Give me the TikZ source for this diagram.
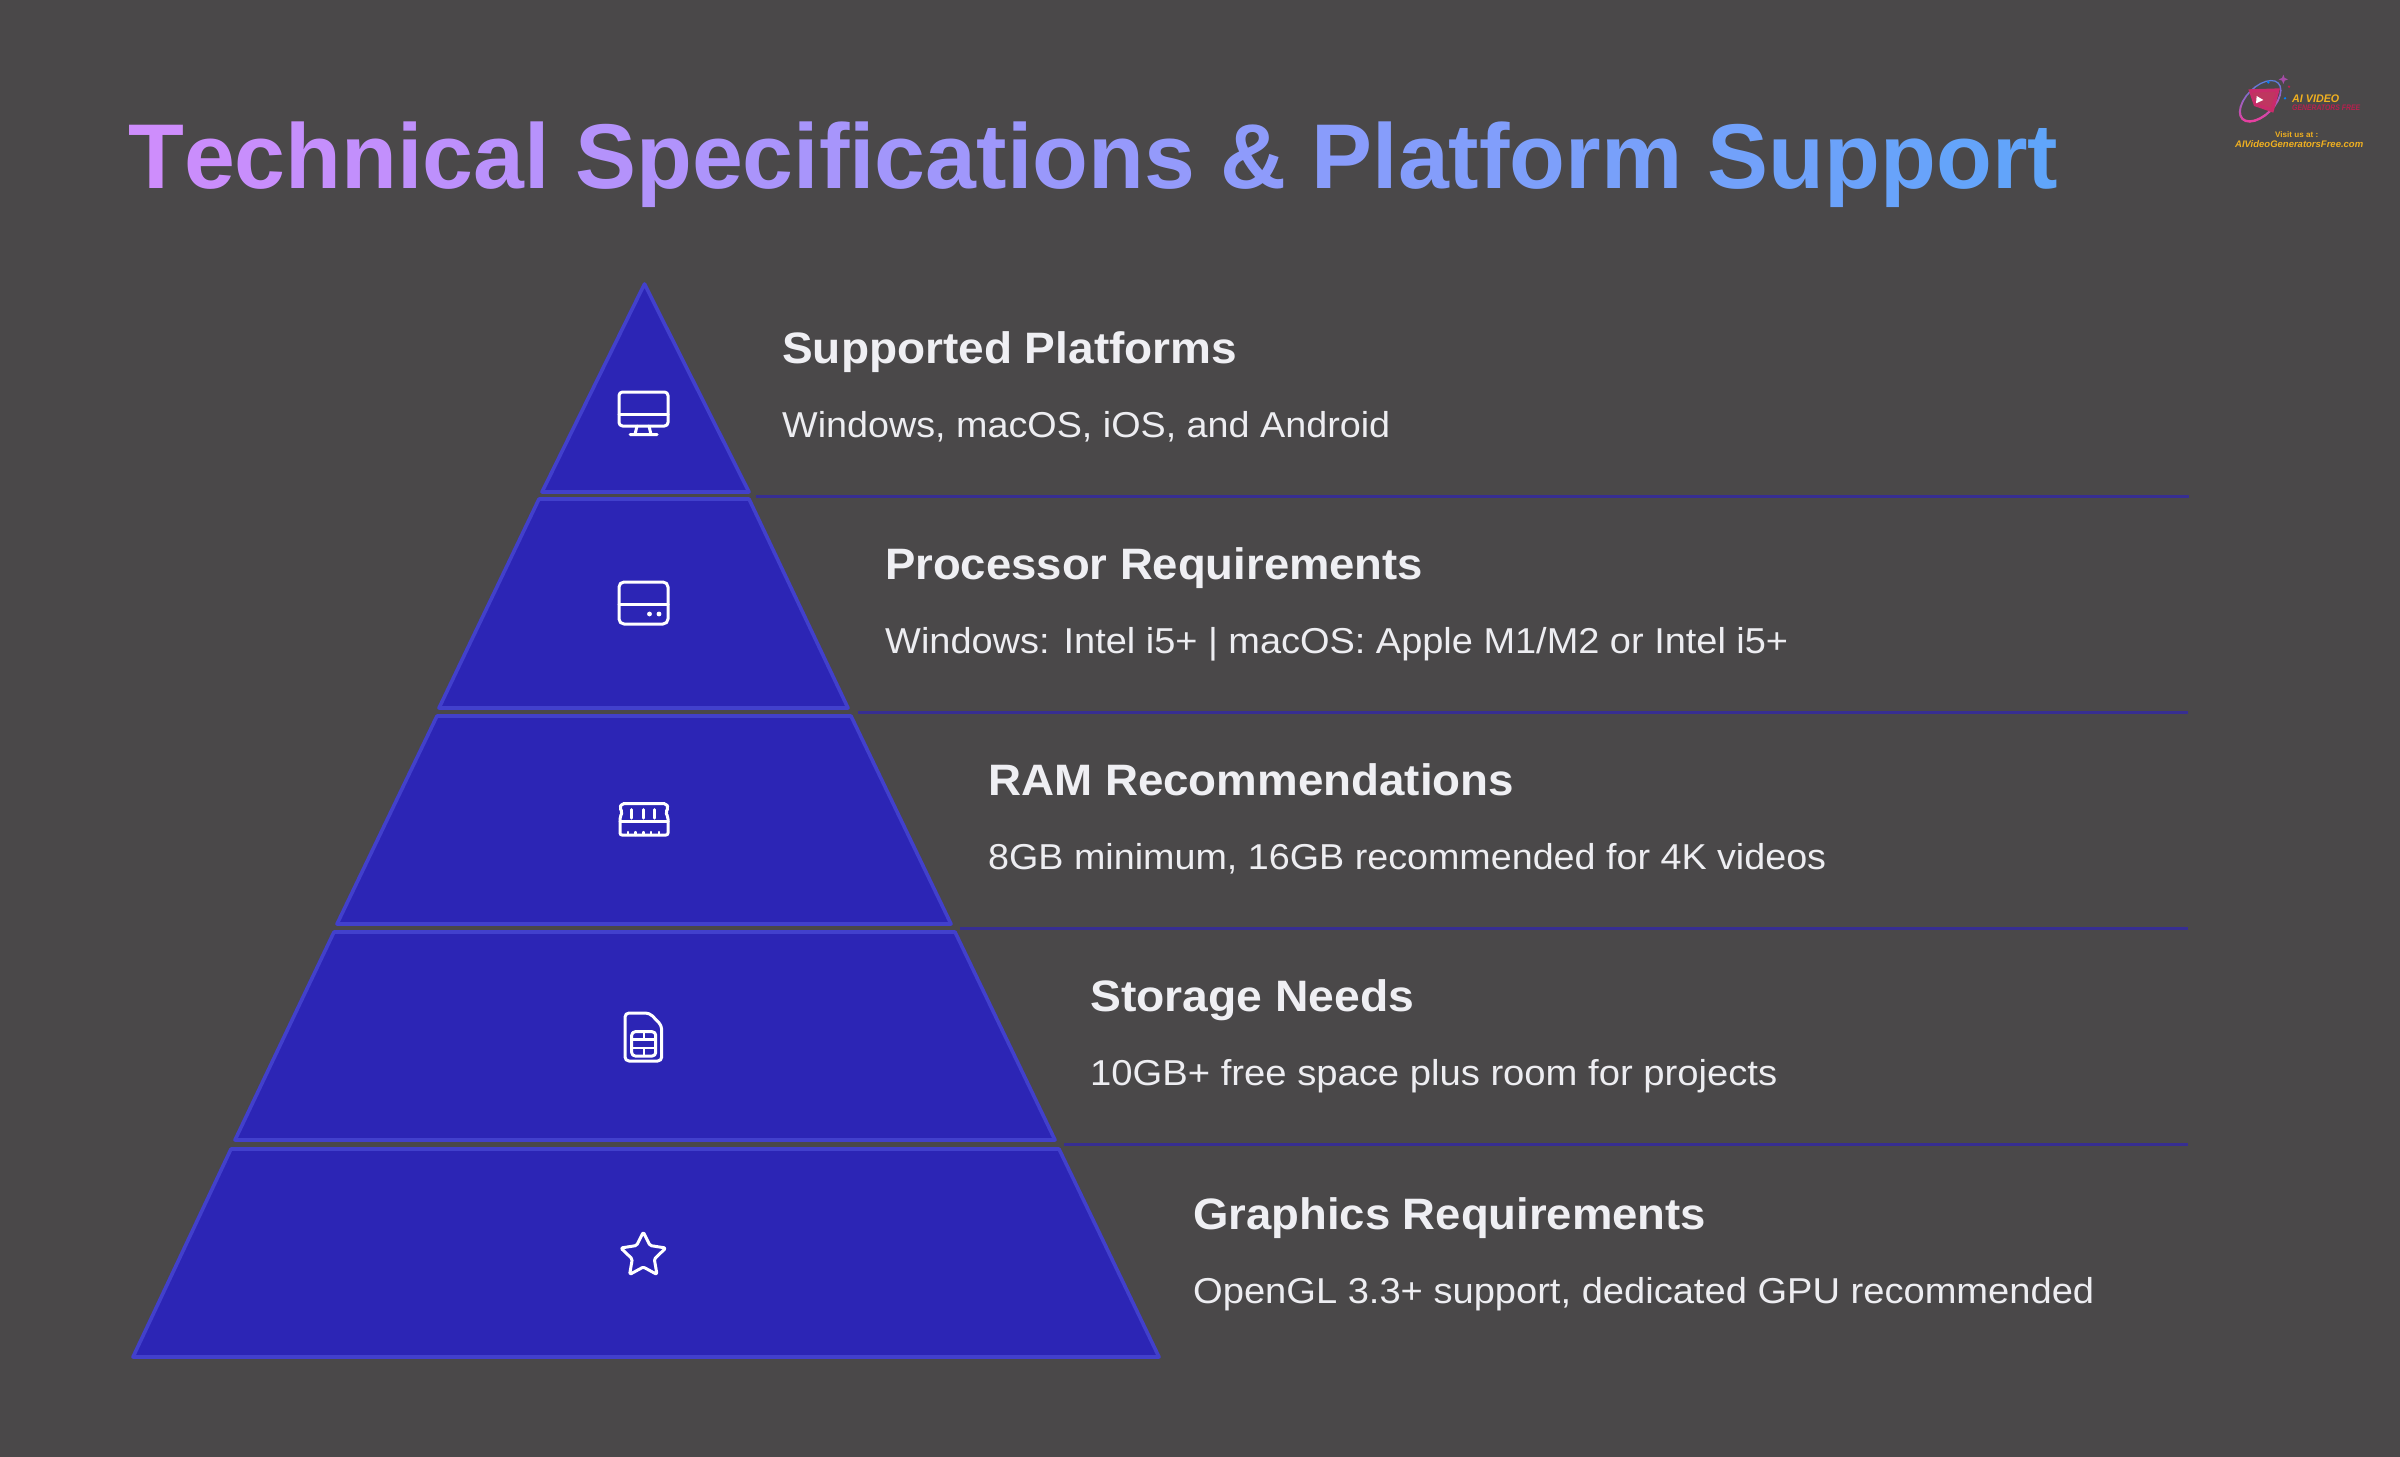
\documentclass[tikz,border=0pt]{standalone}
\usepackage{fontspec}
\usepackage{graphicx}
\setmainfont{Liberation Sans}
\usetikzlibrary{calc}
\definecolor{bgc}{HTML}{4A4849}
\definecolor{tierfill}{HTML}{2C25B5}
\definecolor{tierline}{HTML}{4240CC}
\definecolor{rulec}{HTML}{372E92}
\definecolor{headc}{HTML}{EFEFF3}
\definecolor{bodyc}{HTML}{EDEDF1}
\definecolor{gradA}{HTML}{D08CFC}
\definecolor{gradB}{HTML}{60A5FA}
\definecolor{goldc}{HTML}{F0B020}
\definecolor{crimc}{HTML}{B8204E}
\definecolor{ringA}{HTML}{E83E9E}
\definecolor{ringB}{HTML}{5A7FE0}
\newdimen\gaccum
\newdimen\gtotal
\newbox\gmeas
\newcommand\fitw[2]{\setbox0\hbox{#2}\pgfmathsetmacro\fitf{#1/(\the\wd0)}\scalebox{\fitf}[1]{\box0}}
\newcommand\G[1]{\setbox\gmeas\hbox{#1}\pgfmathtruncatemacro\gp{100-min(100,(\the\gaccum+0.5*\the\wd\gmeas)/\the\gtotal*100)}\global\advance\gaccum by \wd\gmeas\textcolor{gradA!\gp!gradB}{#1}}
\newcommand\titletext{\G{T}\G{e}\G{c}\G{h}\G{n}\G{i}\G{c}\G{a}\G{l}\G{\ }\G{S}\G{p}\G{e}\G{c}\G{i}\G{f}\G{i}\G{c}\G{a}\G{t}\G{i}\G{o}\G{n}\G{s}\G{\ }\G{\&}\G{\ }\G{P}\G{l}\G{a}\G{t}\G{f}\G{o}\G{r}\G{m}\G{\ }\G{S}\G{u}\G{p}\G{p}\G{o}\G{r}\G{t}}
\newcommand\gradtitle[1]{\global\gaccum=0pt \gtotal=2000pt \setbox4\hbox{\titletext}\gtotal=\gaccum \global\gaccum=0pt \fitw{#1}{\titletext}}
\tikzset{
  tier/.style={fill=tierfill,draw=tierline,line width=3.6pt,line join=round},
  divider/.style={draw=rulec,line width=3pt},
  icon/.style={draw=white,line width=3pt,line join=round,line cap=round},
  headtxt/.style={anchor=base west,inner sep=0pt,text=headc,font=\fontsize{44}{50}\selectfont\bfseries},
  bodytxt/.style={anchor=base west,inner sep=0pt,text=bodyc,font=\fontsize{36}{42}\selectfont},
  titletxt/.style={anchor=base west,inner sep=0pt,font=\fontsize{92}{100}\selectfont\bfseries},
  logotxt/.style={anchor=base west,inner sep=0pt}
}
\begin{document}
\begin{tikzpicture}[x=1pt,y=-1pt]
\useasboundingbox (0,0) rectangle (2400,1456);
\fill[bgc] (-3,-3) rectangle (2403,1459);

% title
\node[titletxt] (title) at (128,188) {\gradtitle{1930}};

% pyramid
\draw[tier] (644.5,284) -- (749,492) -- (542,492) -- cycle;
\draw[tier] (539,499) -- (749,499) -- (848,708) -- (439,708) -- cycle;
\draw[tier] (437,716) -- (851,716) -- (951,924) -- (337,924) -- cycle;
\draw[tier] (334,932) -- (955,932) -- (1055,1140) -- (235,1140) -- cycle;
\draw[tier] (231,1149) -- (1059,1149) -- (1159,1357) -- (133,1357) -- cycle;

% dividers
\coordinate (d1a) at (756,496);  \coordinate (d1b) at (2189,496);
\coordinate (d2a) at (858,712);  \coordinate (d2b) at (2188,712);
\coordinate (d3a) at (960,928);  \coordinate (d3b) at (2188,928);
\coordinate (d4a) at (1064,1144);\coordinate (d4b) at (2188,1144);
\draw[divider] (d1a) -- (d1b);
\draw[divider] (d2a) -- (d2b);
\draw[divider] (d3a) -- (d3b);
\draw[divider] (d4a) -- (d4b);

% texts
\node[headtxt] (h1) at (782,363) {\fitw{455}{Supported Platforms}};
\node[bodytxt] (b1) at (782,437) {\fitw{608}{Windows, macOS, iOS, and Android}};
\node[headtxt] (h2) at (885,579) {\fitw{538}{Processor Requirements}};
\node[bodytxt] (b2) at (885,653) {\fitw{903}{Windows: Intel i5+ | macOS: Apple M1/M2 or Intel i5+}};
\node[headtxt] (h3) at (988,795) {\fitw{526}{RAM Recommendations}};
\node[bodytxt] (b3) at (988,869) {\fitw{838}{8GB minimum, 16GB recommended for 4K videos}};
\node[headtxt] (h4) at (1090,1011) {\fitw{324}{Storage Needs}};
\node[bodytxt] (b4) at (1090,1085) {\fitw{687}{10GB+ free space plus room for projects}};
\node[headtxt] (h5) at (1193,1229) {\fitw{513}{Graphics Requirements}};
\node[bodytxt] (b5) at (1193,1303) {\fitw{901}{OpenGL 3.3+ support, dedicated GPU recommended}};

% monitor icon
\draw[icon,rounded corners=3.5pt] (619,392) rectangle (668,426);
\draw[icon] (619,414) -- (668,414);
\draw[icon] (637,426) -- (635,434.5) (649,426) -- (651,434.5) (630,434.5) -- (657,434.5);

% drive icon
\draw[icon,rounded corners=5pt] (619,582) rectangle (668,624);
\draw[icon] (619,604) -- (668,604);
\fill[white] (649.5,614) circle (2.4) (659,614) circle (2.4);

% ram icon
\draw[icon,rounded corners=2pt] (622,803.5) -- (666,803.5) -- (668.5,808) -- (665.5,812) -- (668,817) -- (668,835) -- (620,835) -- (620,817) -- (622.5,812) -- (619.5,808) -- cycle;
\draw[icon] (620,821.5) -- (668,821.5);
\draw[icon] (631.7,809.5) -- (631.7,818) (643.3,809.5) -- (643.3,818) (654.3,809.5) -- (654.3,818);
\draw[icon,line width=2.4pt] (627.7,832) -- (627.7,835) (635.3,832) -- (635.3,835) (643.3,832) -- (643.3,835) (650.7,832) -- (650.7,835) (659,832) -- (659,835);

% sim icon
\draw[icon,rounded corners=4pt] (625,1013) -- (649.5,1013) -- (661.7,1025.5) -- (661.7,1061) -- (625,1061) -- cycle;
\draw[icon,rounded corners=3.5pt] (631.7,1031.7) rectangle (655.7,1056);
\draw[icon,line width=2.4pt] (631.7,1039.5) -- (655.7,1039.5) (631.7,1048) -- (655.7,1048) (643.7,1031.7) -- (643.7,1039.5) (643.7,1048) -- (643.7,1056);

% star icon
\draw[icon,rounded corners=1.5pt] (643.3,1232)
  -- (650,1245.5) -- (665.8,1248) -- (654.3,1259) -- (657,1274.5) -- (643.3,1267)
  -- (629.6,1274.5) -- (632.3,1259) -- (620.8,1248) -- (636.6,1245.5) -- cycle;

% logo
\begin{scope}[shift={(2180,50)},x=0.3333pt,y=-0.3333pt]
  \foreach \t in {0,15,...,345} {
    \pgfmathtruncatemacro\mx{50-50*cos(\t+40)}
    \pgfmathsetmacro\lw{1.2+1.2*(0.5-0.5*cos(\t+40))}
    \draw[line width=\lw pt,draw=ringA!\mx!ringB,line cap=round,rotate around={45:(241,153)}]
      ({241+76*cos(\t)},{153+42*sin(\t)}) -- ({241+76*cos(\t+15)},{153+42*sin(\t+15)});
  }
  \fill[crimc!65!ringA] (205,118) -- (300,115) -- (280,188) -- (222,168) -- cycle;
  \fill[crimc!90!white] (215,128) -- (288,125) -- (272,174) -- (228,158) -- cycle;
  \fill[white] (230,138) -- (250,150) -- (228,160) -- cycle;
  \fill[violet!70!white] (310,74) -- (314,84) -- (324,88) -- (314,92) -- (310,102) -- (306,92) -- (296,88) -- (306,84) -- cycle;
  \fill[blue!50!cyan] (265,97) circle (4);
  \fill[crimc] (327,110) circle (4);
  \fill[blue!50!cyan] (315,145) circle (4);
\end{scope}
\node[logotxt,text=goldc,font=\fontsize{11}{12}\selectfont\bfseries\itshape] (l1) at (2292,102) {\fitw{47}{AI VIDEO}};
\node[logotxt,text=crimc,font=\fontsize{8}{9}\selectfont\bfseries\itshape] (l2) at (2292,110) {\fitw{68}{GENERATORS FREE}};
\node[logotxt,text=goldc,font=\fontsize{8}{9}\selectfont\bfseries] (l3) at (2275,137) {\fitw{43}{Visit us at :}};
\node[logotxt,text=goldc,font=\fontsize{9.5}{10}\selectfont\bfseries\itshape] (l4) at (2235,147) {\fitw{128}{AIVideoGeneratorsFree.com}};
\end{tikzpicture}
\end{document}
